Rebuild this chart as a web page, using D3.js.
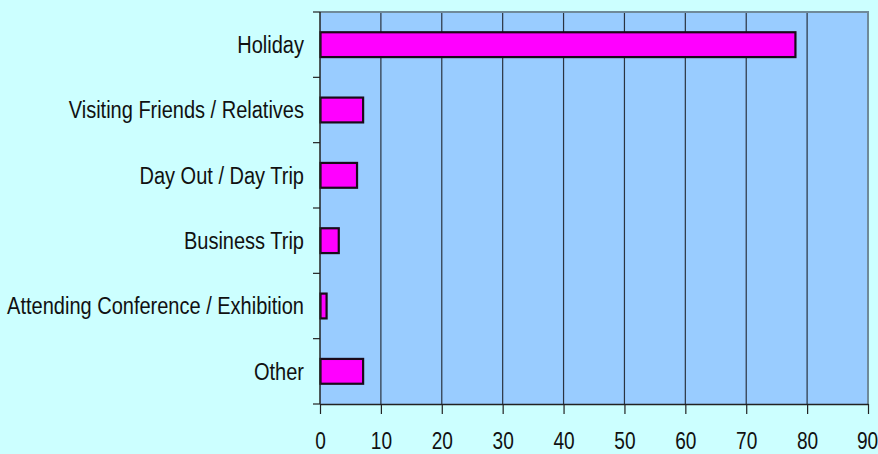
<!DOCTYPE html>
<html>
<head>
<meta charset="utf-8">
<script src="https://cdn.jsdelivr.net/npm/d3@7"></script>
<style>
  html, body { margin: 0; padding: 0; background: #ccffff; }
  svg { display: block; }
  text { font-family: "Liberation Sans", Arial, sans-serif; fill: #111; }
</style>
</head>
<body>
<svg id="chart" width="878" height="454"></svg>
<script>
// Purpose of visit, percentage of respondents
const categories = [
  "Holiday",
  "Visiting Friends / Relatives",
  "Day Out / Day Trip",
  "Business Trip",
  "Attending Conference / Exhibition",
  "Other"
];
const values = [78, 7, 6, 3, 1, 7];
const xTicks = [0, 10, 20, 30, 40, 50, 60, 70, 80, 90];

const W = 878, H = 454;
const margin = { top: 12, right: 10, bottom: 50, left: 320 };
const innerW = W - margin.left - margin.right;
const innerH = H - margin.top - margin.bottom;

const svg = d3.select("#chart");
const g = svg.append("g").attr("transform", `translate(${margin.left},${margin.top})`);

const x = d3.scaleLinear().domain([0, 90]).range([0, innerW]);
const y = d3.scaleBand().domain(categories).range([0, innerH]).paddingInner(0.62).paddingOuter(0.31);

// plot area background
g.append("rect")
  .attr("x", 0).attr("y", 0)
  .attr("width", innerW).attr("height", innerH)
  .attr("fill", "#99ccff");

// vertical gridlines
g.append("g")
  .selectAll("line")
  .data(xTicks.filter(d => d > 0 && d < 90))
  .join("line")
  .attr("x1", d => x(d)).attr("x2", d => x(d))
  .attr("y1", 0).attr("y2", innerH)
  .attr("stroke", "#2a3340").attr("stroke-width", 1.2);

// top and right frame
g.append("path")
  .attr("d", `M0,0H${innerW}V${innerH}`)
  .attr("fill", "none")
  .attr("stroke", "#6f8a99")
  .attr("stroke-width", 2);

// bars
g.append("g")
  .selectAll("rect")
  .data(values)
  .join("rect")
  .attr("x", x(0) + 0.5)
  .attr("y", (d, i) => y(categories[i]))
  .attr("width", d => x(d) - x(0))
  .attr("height", y.bandwidth())
  .attr("fill", "#ff00ff")
  .attr("stroke", "#1a0a1a")
  .attr("stroke-width", 2.2);

// x axis
const xAxis = g.append("g")
  .attr("transform", `translate(0,${innerH})`)
  .call(d3.axisBottom(x).tickValues(xTicks).tickSize(10).tickPadding(19).tickSizeOuter(0));
xAxis.select(".domain").attr("stroke", "#222").attr("stroke-width", 1.5);
xAxis.selectAll(".tick line").attr("stroke", "#222").attr("stroke-width", 1.2);
xAxis.selectAll(".tick text")
  .style("font-size", "23px")
  .style("font-family", "'Liberation Sans', Arial, sans-serif")
  .attr("fill", "#111")
  .attr("transform", d => d === 90 ? "translate(-1,0) scale(0.83,1)" : "scale(0.83,1)");

// y axis: ticks sit on category boundaries
const boundaries = d3.range(categories.length + 1).map(i => i * innerH / categories.length);
g.append("line")
  .attr("x1", 0).attr("x2", 0).attr("y1", 0).attr("y2", innerH)
  .attr("stroke", "#222").attr("stroke-width", 1.5);
g.append("g")
  .selectAll("line")
  .data(boundaries)
  .join("line")
  .attr("x1", -7).attr("x2", 0)
  .attr("y1", d => d).attr("y2", d => d)
  .attr("stroke", "#222").attr("stroke-width", 1.2);

// category labels
g.append("g")
  .selectAll("g")
  .data(categories)
  .join("g")
  .attr("transform", d => `translate(-16,${y(d) + y.bandwidth() / 2})`)
  .append("text")
  .attr("dy", "0.36em")
  .attr("text-anchor", "end")
  .attr("transform", "scale(0.87,1)")
  .style("font-size", "23px")
  .text(d => d);
</script>
</body>
</html>
